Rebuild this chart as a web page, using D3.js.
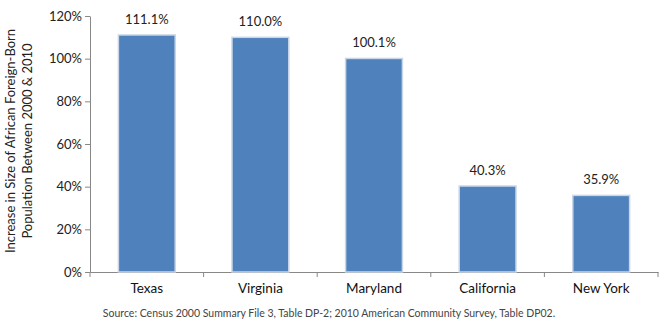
<!DOCTYPE html>
<html><head><meta charset="utf-8">
<script src="https://cdn.jsdelivr.net/npm/d3@7"></script>
<style>body{margin:0;background:#fff}</style>
</head><body>
<svg id="c" width="670" height="325"></svg>
<script>
const categories = ["Texas","Virginia","Maryland","California","New York"];
const values = [111.1,110.0,100.1,40.3,35.9];
const yTicks = [0,20,40,60,80,100,120];
const yTitle = ["Increase in Size of African Foreign-Born","Population Between 2000 & 2010"];
const source = "Source: Census 2000 Summary File 3, Table DP-2; 2010 American Community Survey, Table DP02.";

const svg = d3.select("#c");
const font = "Lato, 'Open Sans', sans-serif";
const m = {l:90, r:12, t:16, b:53};
const W = 670, H = 325;
const x = d3.scaleBand().domain(categories).range([m.l, W-m.r]).paddingInner(0.5).paddingOuter(0.25);
const y = d3.scaleLinear().domain([0,120]).range([H-m.b, m.t]);

// y axis
const ya = svg.append("g").attr("transform",`translate(${m.l},0)`)
  .call(d3.axisLeft(y).tickValues(yTicks).tickFormat(d=>d+"%").tickSize(5).tickSizeOuter(0));
ya.select(".domain").attr("stroke","#888");
ya.selectAll(".tick line").attr("stroke","#888");
ya.selectAll(".tick text").attr("font-family",font).attr("font-size",13).attr("fill","#222").attr("x",-8);

// x axis
const xa = svg.append("g").attr("transform",`translate(0,${y(0)})`)
  .call(d3.axisBottom(x).tickSize(0).tickSizeOuter(0));
xa.select(".domain").attr("stroke","#888");
xa.selectAll(".tick text").attr("font-family",font).attr("font-size",13.5).attr("fill","#111").attr("dy","1.35em");
// category boundary ticks
const step = x.step();
const bounds = d3.range(categories.length+1).map(i => x(categories[0]) - (step - x.bandwidth())/2 + i*step);
svg.append("g").selectAll("line").data(bounds).join("line")
  .attr("x1",d=>d).attr("x2",d=>d).attr("y1",y(0)).attr("y2",y(0)+5).attr("stroke","#888");

// bars
svg.append("g").selectAll("rect").data(values).join("rect")
  .attr("x",(d,i)=>x(categories[i])).attr("width",x.bandwidth())
  .attr("y",d=>y(d)).attr("height",d=>y(0)-y(d))
  .attr("fill","#4F81BD").attr("stroke","#c9d6e6").attr("stroke-width",1.5);

// value labels
svg.append("g").selectAll("text").data(values).join("text")
  .attr("x",(d,i)=>x(categories[i])+x.bandwidth()/2).attr("y",d=>y(d)-11)
  .attr("text-anchor","middle").attr("font-family",font).attr("font-size",13).attr("fill","#222")
  .text(d=>d.toFixed(1)+"%");

// y title
const yt = svg.append("text").attr("transform",`translate(0,141) rotate(-90)`)
  .attr("text-anchor","middle").attr("font-family",font).attr("font-size",13).attr("fill","#222");
yTitle.forEach((t,i)=>yt.append("tspan").attr("x",0).attr("y",i===0?15:32).text(t));

// source
svg.append("text").attr("x",329).attr("y",317).attr("text-anchor","middle")
  .attr("font-family",font).attr("font-size",10.5).attr("fill","#444").text(source);
</script>
</body></html>
